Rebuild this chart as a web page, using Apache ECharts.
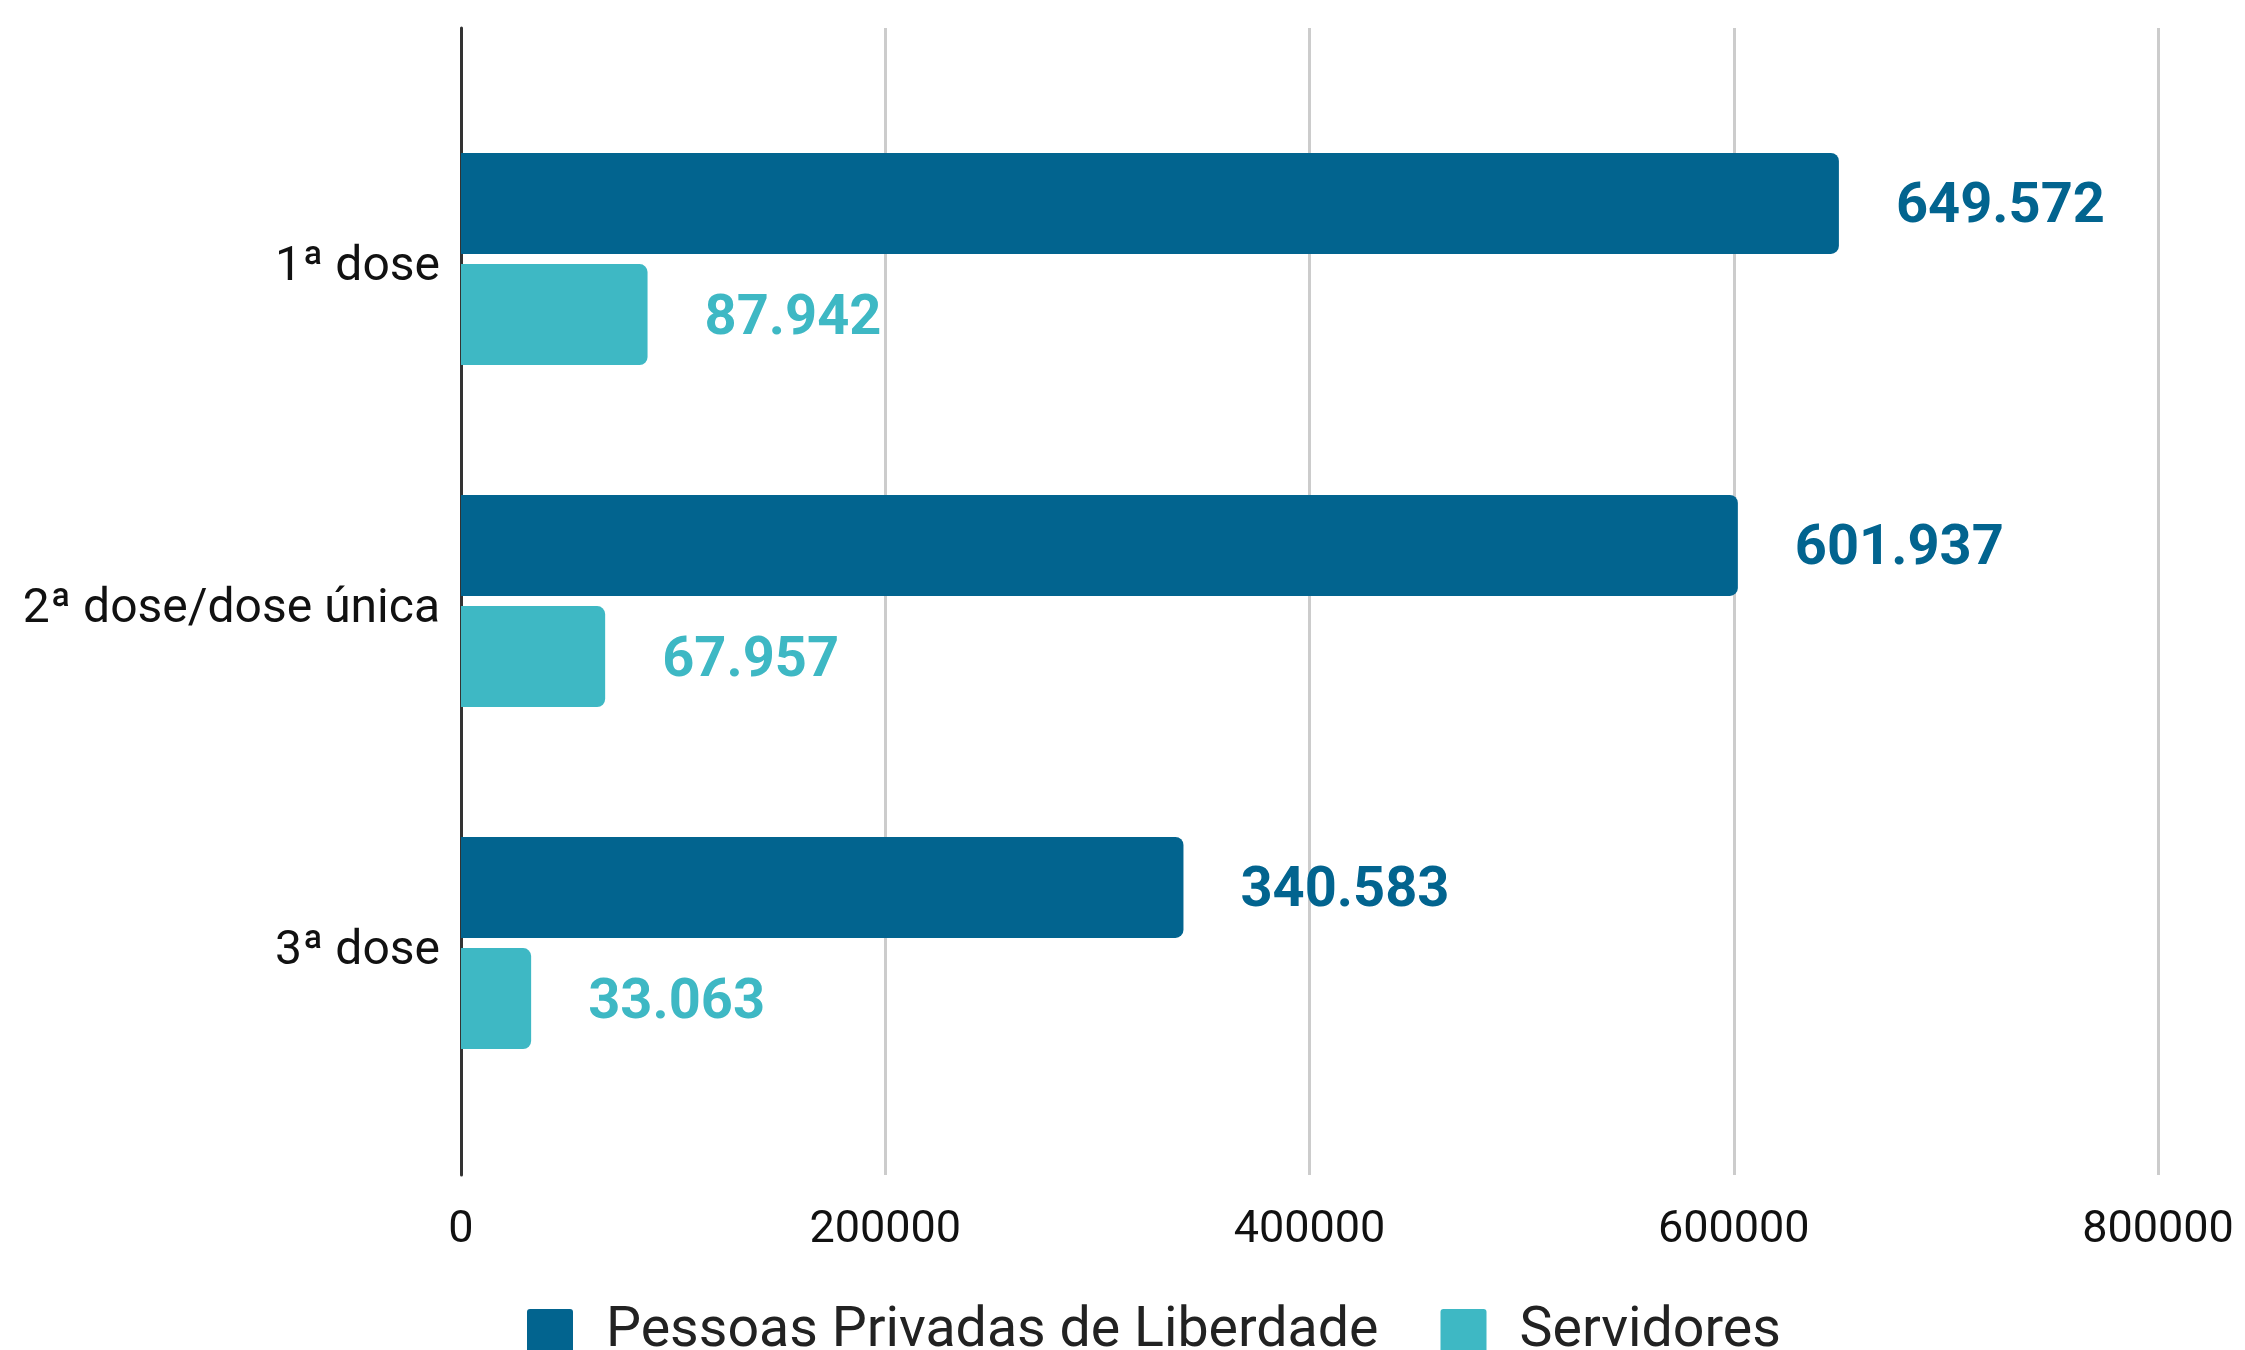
<!DOCTYPE html>
<html><head><meta charset="utf-8">
<script src="https://cdn.jsdelivr.net/npm/echarts@6/dist/echarts.min.js"></script>
<style>html,body{margin:0;padding:0;background:#fff}#c{width:2245px;height:1350px}</style>
</head><body><div id="c"></div>
<script>
const categories = ['1ª dose', '2ª dose/dose única', '3ª dose'];
const seriesNames = ['Pessoas Privadas de Liberdade', 'Servidores'];
const ppl = [649572, 601937, 340583];
const servidores = [87942, 67957, 33063];
const xTicks = [0, 200000, 400000, 600000, 800000];

const colors = ['#02648F', '#3EB8C4'];
const fmt = v => String(v).replace(/\B(?=(\d{3})+(?!\d))/g, '.');
const chart = echarts.init(document.getElementById('c'), null, {renderer: 'canvas'});
const FONT = 'Roboto';
chart.setOption({
  backgroundColor: '#fff',
  animation: false,
  textStyle: {fontFamily: FONT},
  grid: [
    {left: 461, right: 87, top: 28, bottom: 175},
    {left: 461, right: 87, top: 88, bottom: 236}
  ],
  xAxis: [
    {gridIndex: 0, type: 'value', min: xTicks[0], max: xTicks[xTicks.length - 1], interval: 200000,
     axisLine: {show: false}, axisTick: {show: false},
     splitLine: {show: true, lineStyle: {color: '#cccccc', width: 3}},
     axisLabel: {fontFamily: FONT, fontSize: 45, color: '#111', margin: 33, formatter: v => String(v)}},
    {gridIndex: 1, type: 'value', min: xTicks[0], max: xTicks[xTicks.length - 1], show: false}
  ],
  yAxis: [
    {gridIndex: 0, type: 'value', min: 0, max: 1, axisLine: {show: true, lineStyle: {color: '#333', width: 3}},
     axisTick: {show: false}, axisLabel: {show: false}, splitLine: {show: false}},
    {gridIndex: 1, type: 'category', data: categories, inverse: true,
     axisLine: {show: false}, axisTick: {show: false}, splitLine: {show: false},
     axisLabel: {margin: 21, formatter: v => '{a|' + v + '}',
       rich: {a: {fontFamily: FONT, fontSize: 48, color: '#111', padding: [18, 0, 0, 0]}}}}
  ],
  legend: {
    data: seriesNames, left: 527, top: 1304, padding: 0,
    itemWidth: 46, itemHeight: 46, itemGap: 62,
    icon: 'path://M3,0 H43 Q46,0 46,3 V43 Q46,46 43,46 H3 Q0,46 0,43 V3 Q0,0 3,0 Z',
    textStyle: {fontFamily: FONT, fontSize: 55.5, color: '#222', padding: [0, 0, 0, 28]}
  },
  series: [
    {name: seriesNames[0], type: 'bar', xAxisIndex: 1, yAxisIndex: 1, data: ppl,
     barWidth: 101, barGap: '10%',
     itemStyle: {color: colors[0], borderRadius: [0, 8, 8, 0]},
     label: {show: true, position: 'right', distance: 57, offset: [0, 5], fontFamily: FONT, fontWeight: 'bold', fontSize: 56,
       color: colors[0], formatter: p => fmt(p.value)}},
    {name: seriesNames[1], type: 'bar', xAxisIndex: 1, yAxisIndex: 1, data: servidores,
     barWidth: 101, barGap: '10%',
     itemStyle: {color: colors[1], borderRadius: [0, 8, 8, 0]},
     label: {show: true, position: 'right', distance: 57, offset: [0, 5], fontFamily: FONT, fontWeight: 'bold', fontSize: 56,
       color: colors[1], formatter: p => fmt(p.value)}}
  ]
});
</script></body></html>
